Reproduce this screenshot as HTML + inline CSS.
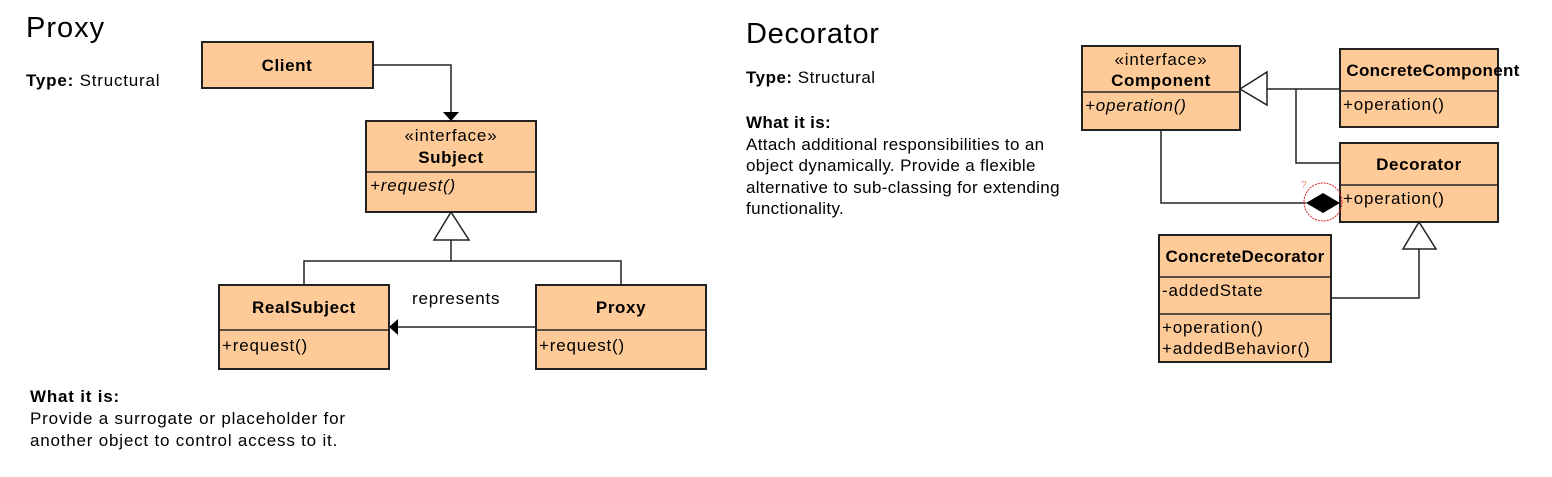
<!DOCTYPE html>
<html><head><style>
body{margin:0;background:#fff;width:1552px;height:477px;overflow:hidden;position:relative;font-family:"Liberation Sans",sans-serif;color:#000}
.t{position:absolute;white-space:nowrap;font-size:17px;letter-spacing:0.8px}
</style></head><body>
<div class="t" style="left:26px;top:12px;font-size:29px;letter-spacing:1px">Proxy</div>
<div class="t" style="left:26px;top:71px"><b>Type:</b> Structural</div>
<div class="t" style="left:30px;top:386px;line-height:22px"><b>What it is:</b><br>Provide a surrogate or placeholder for<br>another object to control access to it.</div>
<div class="t" style="left:746px;top:18px;font-size:29px;letter-spacing:0.7px">Decorator</div>
<div class="t" style="left:746px;top:68px;letter-spacing:0.5px"><b>Type:</b> Structural</div>
<div class="t" style="left:746px;top:112px;line-height:21.5px;letter-spacing:0.35px"><b>What it is:</b><br>Attach additional responsibilities to an<br>object dynamically. Provide a flexible<br>alternative to sub-classing for extending<br>functionality.</div>
<svg width="1552" height="477" style="position:absolute;left:0;top:0" font-family="Liberation Sans, sans-serif" font-size="17" letter-spacing="0.8">
<g fill="#fecb98" stroke="#222" stroke-width="2">
<rect x="202" y="42" width="171" height="46"/>
<rect x="366" y="121" width="170" height="91"/>
<rect x="219" y="285" width="170" height="84"/>
<rect x="536" y="285" width="170" height="84"/>
<rect x="1082" y="46" width="158" height="84"/>
<rect x="1340" y="49" width="158" height="78"/>
<rect x="1340" y="143" width="158" height="79"/>
<rect x="1159" y="235" width="172" height="127"/>
</g>
<g stroke="#222" stroke-width="1.5" fill="none">
<line x1="366" y1="172" x2="536" y2="172"/>
<line x1="219" y1="330" x2="389" y2="330"/>
<line x1="536" y1="330" x2="706" y2="330"/>
<line x1="1082" y1="92" x2="1240" y2="92"/>
<line x1="1340" y1="91" x2="1498" y2="91"/>
<line x1="1340" y1="185" x2="1498" y2="185"/>
<line x1="1159" y1="277" x2="1331" y2="277"/>
<line x1="1159" y1="314" x2="1331" y2="314"/>
<polyline points="373,65 451,65 451,112"/>
<polyline points="451,240 451,261"/>
<polyline points="304,285 304,261 621,261 621,285"/>
<line x1="536" y1="327" x2="398" y2="327"/>
<line x1="1267" y1="89" x2="1340" y2="89"/>
<polyline points="1296,89 1296,163 1340,163"/>
<polyline points="1161,130 1161,203 1306,203"/>
<polyline points="1331,298 1419,298 1419,249"/>
</g>
<polygon points="443,112 459,112 451,121" fill="#000"/>
<polygon points="398,319 398,335 389,327" fill="#000"/>
<polygon points="451,212 434,240 469,240" fill="#fff" stroke="#222" stroke-width="1.5"/>
<polygon points="1240,89 1267,72 1267,105" fill="#fff" stroke="#222" stroke-width="1.5"/>
<polygon points="1419,222 1403,249 1436,249" fill="#fff" stroke="#222" stroke-width="1.5"/>
<polygon points="1306,203 1323,193 1340,203 1323,213" fill="#000"/>
<circle cx="1323" cy="202" r="19" fill="none" stroke="#d22" stroke-width="1" stroke-dasharray="2,1"/>
<text x="1301" y="188" fill="#e87" font-size="10" letter-spacing="0">?</text>
<g font-weight="bold" text-anchor="middle" letter-spacing="0.6">
<text x="287" y="71">Client</text>
<text x="451" y="163">Subject</text>
<text x="304" y="313">RealSubject</text>
<text x="621" y="313">Proxy</text>
<text x="1161" y="86">Component</text>
<text x="1433" y="76" letter-spacing="0.3">ConcreteComponent</text>
<text x="1419" y="170">Decorator</text>
<text x="1245" y="262" letter-spacing="0.3">ConcreteDecorator</text>
</g>
<g text-anchor="middle">
<text x="451" y="141">«interface»</text>
<text x="1161" y="65">«interface»</text>
</g>
<text x="412" y="304">represents</text>
<text x="370" y="191" font-style="italic">+request()</text>
<text x="222" y="351">+request()</text>
<text x="539" y="351">+request()</text>
<text x="1085" y="111" font-style="italic">+operation()</text>
<text x="1343" y="110">+operation()</text>
<text x="1343" y="204">+operation()</text>
<text x="1162" y="296">-addedState</text>
<text x="1162" y="333">+operation()</text>
<text x="1162" y="354">+addedBehavior()</text>
</svg>
</body></html>
